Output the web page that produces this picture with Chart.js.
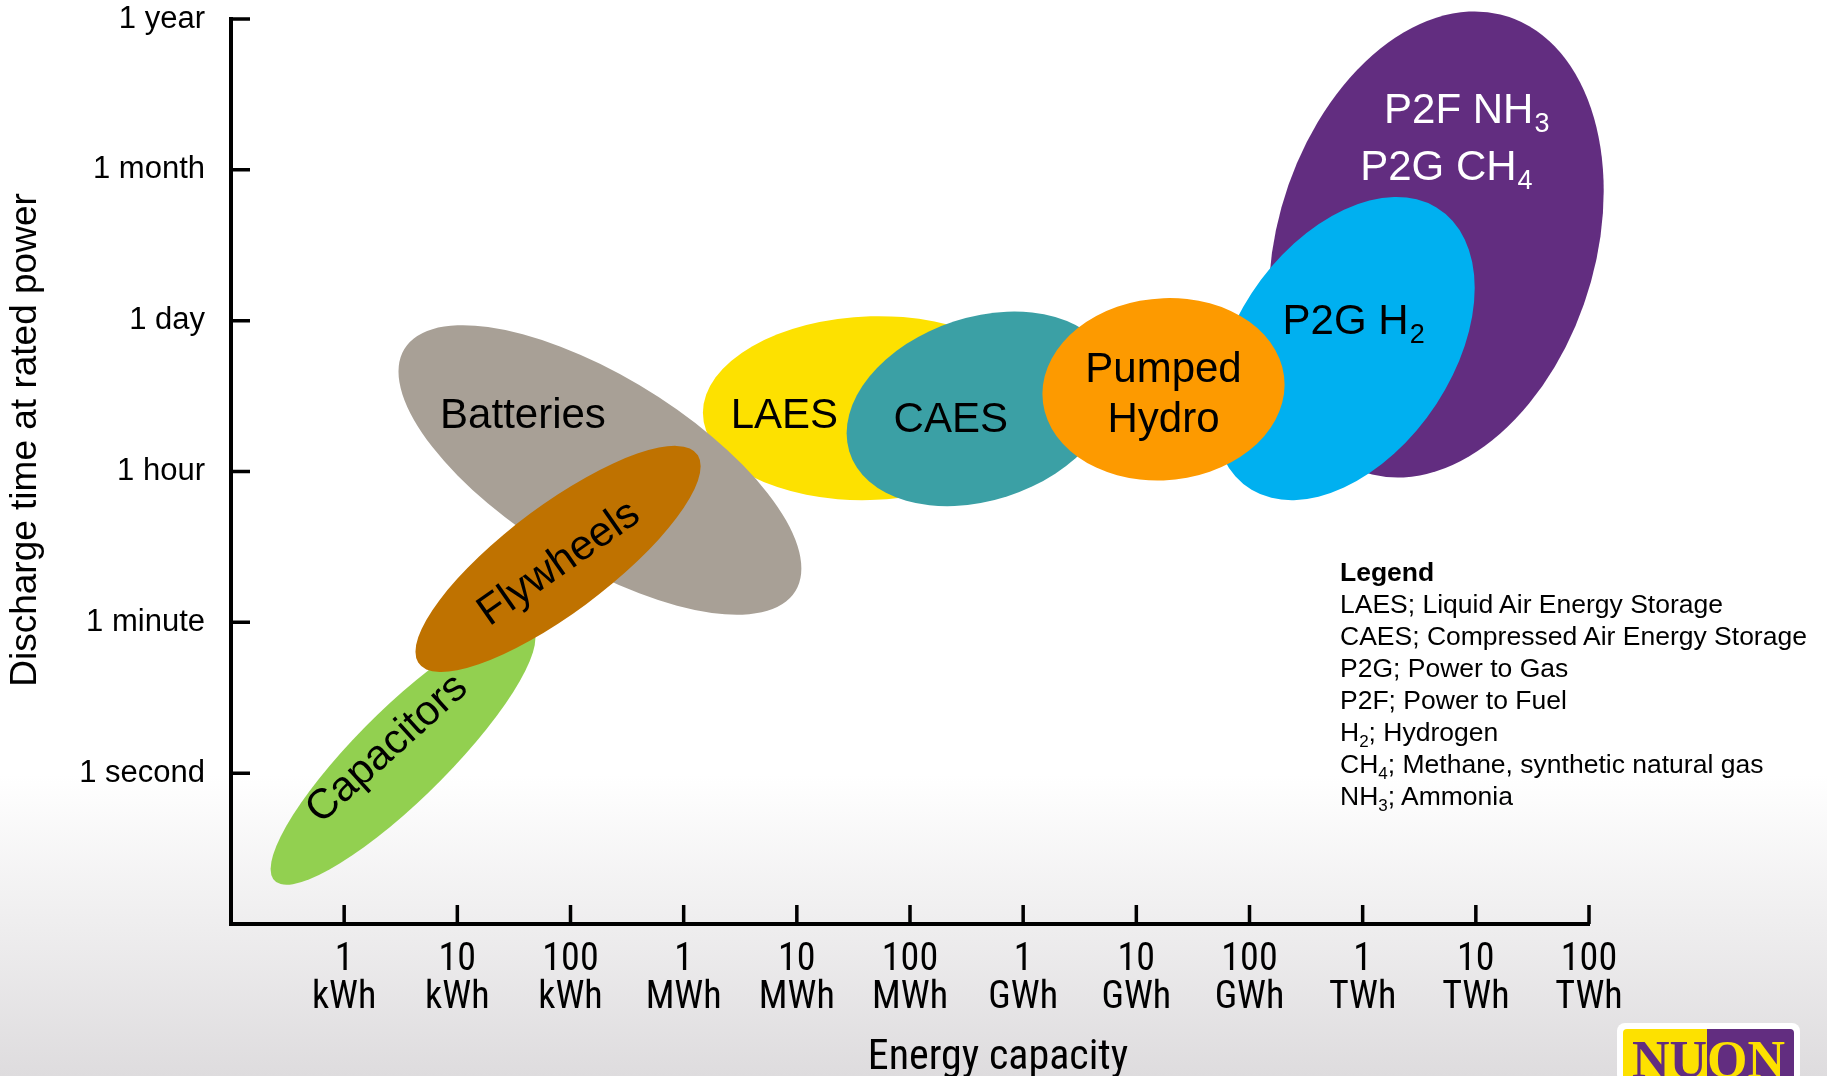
<!DOCTYPE html>
<html>
<head>
<meta charset="utf-8">
<script src="https://cdn.jsdelivr.net/npm/chart.js@4.4.1/dist/chart.umd.min.js"></script>
<style>
  html, body { margin: 0; padding: 0; }
  body {
    width: 1827px; height: 1076px; overflow: hidden; position: relative;
    background: linear-gradient(to bottom, #ffffff 0%, #ffffff 72%, #dedcde 100%);
    font-family: "Liberation Sans", Arial, sans-serif;
  }
  #wrap { position: absolute; left: 0; top: 0; width: 1827px; height: 1076px; }
  #legend { position: absolute; left: 1340px; top: 556px; font-size: 26.5px; line-height: 32px; color: #000; white-space: nowrap; }
  #legend sub { font-size: 17px; line-height: 0; vertical-align: -6px; }
  #logo { position: absolute; left: 1617px; top: 1023px; width: 183px; height: 60px; background: #fff; border-radius: 8px; }
  #logo .inner {
    position: absolute; left: 6px; top: 6px; right: 6px; bottom: 0; overflow: hidden; border-radius: 4px 4px 0 0;
    background: linear-gradient(90deg, #fde100 0%, #fde100 49%, #622d80 49%, #622d80 100%);
  }
  #logo .txt {
    position: absolute; left: 0; right: 0; top: 5px; text-align: center;
    font: bold 52px "Liberation Serif", serif; line-height: 1;
    background: linear-gradient(90deg, #622d80 0%, #622d80 49%, #fde100 49%, #fde100 100%);
    -webkit-background-clip: text; background-clip: text; color: transparent;
  }
</style>
</head>
<body>
<div id="wrap"><canvas id="chart"></canvas></div>

<div id="legend">
  <b>Legend</b><br>
  LAES; Liquid Air Energy Storage<br>
  CAES; Compressed Air Energy Storage<br>
  P2G; Power to Gas<br>
  P2F; Power to Fuel<br>
  H<sub>2</sub>; Hydrogen<br>
  CH<sub>4</sub>; Methane, synthetic natural gas<br>
  NH<sub>3</sub>; Ammonia
</div>

<div id="logo"><div class="inner"><div class="txt">NUON</div></div></div>

<script>
// x: log10 of capacity in kWh (0 = 1 kWh ... 11 = 100 TWh)
// y: index of the discharge time tick (0 = 1 second ... 5 = 1 year)
const techs = ["P2F NH3 / P2G CH4", "P2G H2", "LAES", "CAES", "Pumped Hydro", "Capacitors", "Batteries", "Flywheels"];
const energyMin = [8.17, 7.68, 3.17, 4.44, 6.17, -0.65, 0.48, 0.63];
const energyMax = [11.13, 9.99, 6.13, 6.81, 8.31, 1.69, 4.04, 3.15];
const timeMin = [1.96, 1.81, 1.81, 1.77, 1.94, -0.74, 1.05, 0.67];
const timeMax = [5.05, 3.82, 3.03, 3.06, 3.15, 1.0, 2.97, 2.17];
const tilt = [0.23, 0.4, 0.05, 0.25, 0.05, 0.88, -0.68, 0.82];

const energyTicks = ["1", "10", "100", "1", "10", "100", "1", "10", "100", "1", "10", "100"];
const energyUnits = ["kWh", "kWh", "kWh", "MWh", "MWh", "MWh", "GWh", "GWh", "GWh", "TWh", "TWh", "TWh"];
const timeTicks = ["1 second", "1 minute", "1 hour", "1 day", "1 month", "1 year"];

const labelText = [["P2F NH", "3"], ["P2G CH", "4"], ["P2G H", "2"], ["LAES"], ["CAES"], ["Pumped"], ["Hydro"], ["Capacitors"], ["Batteries"], ["Flywheels"]];
const labelX = [9.92, 9.74, 8.92, 3.89, 5.36, 7.24, 7.24, 0.37, 1.58, 1.89];
const labelY = [4.42, 4.04, 3.02, 2.40, 2.37, 2.70, 2.37, 0.17, 2.40, 1.40];

const fills = ["#622d80", "#00b0f0", "#fde100", "#3ba0a5", "#fd9a00", "#92d050", "#a8a096", "#bf7200"];
const labelAngle = [0, 0, 0, 0, 0, 0, 0, -42, 0, -35];
const labelColor = ["#fff", "#fff", "#000", "#000", "#000", "#000", "#000", "#000", "#000", "#000"];

const SANS = "'Liberation Sans', Arial, sans-serif";
const NARROW = "'Liberation Sans Narrow', 'Arial Narrow', 'Roboto Condensed', 'Liberation Sans', sans-serif";

function drawLabel(ctx, parts, x, y, angle, color) {
  ctx.save();
  ctx.translate(x, y);
  ctx.rotate(angle * Math.PI / 180);
  ctx.font = "42px " + SANS;
  const w0 = ctx.measureText(parts[0]).width;
  let w1 = 0;
  if (parts[1]) { ctx.font = "27px " + SANS; w1 = ctx.measureText(parts[1]).width + 1; }
  const start = -(w0 + w1) / 2;
  const dy = angle ? 2 : 5;
  ctx.fillStyle = color;
  ctx.textAlign = "left";
  ctx.textBaseline = "middle";
  ctx.font = "42px " + SANS;
  ctx.fillText(parts[0], start, dy);
  if (parts[1]) {
    ctx.font = "27px " + SANS;
    ctx.fillText(parts[1], start + w0 + 1, dy + 13);
  }
  ctx.restore();
}

const ellipses = {
  id: "ellipses",
  beforeDatasetsDraw(chart) {
    const ctx = chart.ctx, xs = chart.scales.x, ys = chart.scales.y;
    techs.forEach((t, i) => {
      const x0 = xs.getPixelForValue(energyMin[i]), x1 = xs.getPixelForValue(energyMax[i]);
      const y0 = ys.getPixelForValue(timeMin[i]), y1 = ys.getPixelForValue(timeMax[i]);
      const cx = (x0 + x1) / 2, cy = (y0 + y1) / 2, w = (x1 - x0) / 2, h = (y0 - y1) / 2;
      const r = tilt[i], s = Math.sqrt(1 - r * r);
      ctx.save();
      ctx.transform(w, -h * r, 0, -h * s, cx, cy);
      ctx.beginPath();
      ctx.arc(0, 0, 1, 0, Math.PI * 2);
      ctx.restore();
      ctx.fillStyle = fills[i];
      ctx.fill();
    });
  },
  afterDatasetsDraw(chart) {
    const ctx = chart.ctx, xs = chart.scales.x, ys = chart.scales.y;
    labelText.forEach((p, i) => {
      drawLabel(ctx, p, xs.getPixelForValue(labelX[i]), ys.getPixelForValue(labelY[i]), labelAngle[i], labelColor[i]);
    });
  },
  afterDraw(chart) {
    const ctx = chart.ctx, xs = chart.scales.x, ys = chart.scales.y, a = chart.chartArea;
    ctx.save();
    ctx.strokeStyle = "#000";
    ctx.lineWidth = 3.5;
    ctx.beginPath();
    energyTicks.forEach((t, i) => {
      const x = xs.getPixelForValue(i);
      ctx.moveTo(x, a.bottom);
      ctx.lineTo(x, a.bottom - 19);
    });
    timeTicks.forEach((t, i) => {
      const y = ys.getPixelForValue(i);
      ctx.moveTo(a.left, y);
      ctx.lineTo(a.left + 19, y);
    });
    ctx.stroke();

    ctx.fillStyle = "#000";
    ctx.textAlign = "center";
    ctx.textBaseline = "middle";
    ctx.font = "42px " + NARROW;
    ctx.fillText("Energy capacity", 998, 1058);
    ctx.translate(26, 440);
    ctx.rotate(-Math.PI / 2);
    ctx.font = "37px " + SANS;
    ctx.fillText("Discharge time at rated power", 0, 0);
    ctx.restore();
  }
};

new Chart(document.getElementById("chart"), {
  type: "scatter",
  data: {
    datasets: techs.map((t, i) => ({
      label: t,
      data: [{ x: (energyMin[i] + energyMax[i]) / 2, y: (timeMin[i] + timeMax[i]) / 2 }],
      pointRadius: 0,
    })),
  },
  options: {
    responsive: true,
    maintainAspectRatio: false,
    animation: false,
    layout: { padding: { top: 19, right: 238, bottom: 0, left: 0 } },
    plugins: { legend: { display: false }, tooltip: { enabled: false } },
    scales: {
      x: {
        type: "linear",
        min: -1,
        max: 11,
        afterFit(s) { s.height = 152; s.paddingLeft = 0; s.paddingRight = 0; },
        grid: { display: false, drawTicks: false },
        border: { display: true, color: "#000", width: 4 },
        ticks: {
          stepSize: 1,
          autoSkip: false,
          maxRotation: 0,
          padding: 17,
          color: "#000",
          font: { family: NARROW, size: 38, lineHeight: 1.0 },
          callback: (v) => (v >= 0 && v <= 11 ? [energyTicks[v], energyUnits[v]] : ""),
        },
      },
      y: {
        type: "linear",
        min: -1,
        max: 5,
        afterFit(s) { s.width = 231; s.paddingTop = 0; s.paddingBottom = 0; },
        grid: { display: false, drawTicks: false },
        border: { display: true, color: "#000", width: 4 },
        ticks: {
          stepSize: 1,
          padding: 26,
          color: "#000",
          font: { family: SANS, size: 31 },
          callback: (v) => (v >= 0 && v <= 5 ? timeTicks[v] : ""),
        },
      },
    },
  },
  plugins: [ellipses],
});
</script>
</body>
</html>
